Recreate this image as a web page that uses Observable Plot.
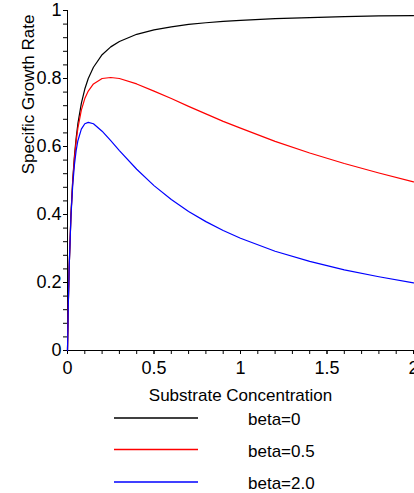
<!DOCTYPE html>
<html><head><meta charset="utf-8">
<script src="https://cdn.jsdelivr.net/npm/d3@7"></script>
<script src="https://cdn.jsdelivr.net/npm/@observablehq/plot@0.6"></script>
<style>
body{margin:0;background:#fff;font-family:"Liberation Sans",Arial,sans-serif;}
#wrap{position:relative;width:414px;height:493px;overflow:hidden;background:#fff;}
#wrap > svg{position:absolute;left:0;top:0;}
.t{position:absolute;font-size:17px;line-height:17px;color:#000;white-space:nowrap;}
</style></head><body><div id="wrap"></div>
<script>
// Substrate concentration (x) and specific growth rate
const conc   = [0, 0.005, 0.01, 0.02, 0.03, 0.04, 0.05, 0.06, 0.08, 0.1, 0.12, 0.15, 0.2, 0.25, 0.3, 0.4, 0.5, 0.6, 0.7, 0.8, 0.9, 1.0, 1.2, 1.4, 1.6, 1.8, 2.0];
const beta0  = [0, 0.143, 0.250, 0.400, 0.500, 0.571, 0.625, 0.667, 0.727, 0.769, 0.800, 0.833, 0.870, 0.893, 0.909, 0.930, 0.943, 0.952, 0.959, 0.964, 0.968, 0.971, 0.976, 0.979, 0.982, 0.984, 0.985];
const beta05 = [0, 0.143, 0.250, 0.398, 0.496, 0.565, 0.615, 0.654, 0.707, 0.741, 0.763, 0.784, 0.800, 0.803, 0.800, 0.784, 0.763, 0.741, 0.718, 0.696, 0.674, 0.654, 0.615, 0.581, 0.550, 0.522, 0.496];
const beta2  = [0, 0.143, 0.249, 0.394, 0.485, 0.546, 0.588, 0.617, 0.651, 0.667, 0.671, 0.667, 0.645, 0.617, 0.588, 0.533, 0.485, 0.444, 0.409, 0.379, 0.353, 0.330, 0.292, 0.262, 0.237, 0.217, 0.199];
const seriesNames  = ["beta=0", "beta=0.5", "beta=2.0"];
const seriesColors = ["#000000", "#ff0000", "#0000ff"];
const xMajor = [0, 0.5, 1, 1.5, 2];
const xMinor = [0, 0.1, 0.2, 0.3, 0.4, 0.5, 0.6, 0.7, 0.8, 0.9, 1.0, 1.1, 1.2, 1.3, 1.4, 1.5, 1.6, 1.7, 1.8, 1.9, 2.0];
const yMajor = [0, 0.2, 0.4, 0.6, 0.8, 1];
const yMinor = [0, 0.04, 0.08, 0.12, 0.16, 0.2, 0.24, 0.28, 0.32, 0.36, 0.4, 0.44, 0.48, 0.52, 0.56, 0.6, 0.64, 0.68, 0.72, 0.76, 0.8, 0.84, 0.88, 0.92, 0.96, 1];
const xTitle = "Substrate Concentration";
const yTitle = "Specific Growth Rate";

const seriesValues = [beta0, beta05, beta2];
const rows = seriesValues.flatMap((vals, k) => conc.map((c, i) => ({series: seriesNames[k], x: c, y: vals[i]})));

const fmt = d => d === 0 ? "0" : d3.format("")(d);

const chart = Plot.plot({
  width: 414, height: 385,
  marginLeft: 67, marginRight: 1, marginTop: 10, marginBottom: 35,
  x: {domain: [0, 2]},
  y: {domain: [0, 1]},
  color: {domain: seriesNames, range: seriesColors},
  style: {fontFamily: "'Liberation Sans', Arial, sans-serif", fontSize: "18px", background: "transparent", color: "#000"},
  marks: [
    Plot.axisX(xMinor, {tickSize: 4, tickFormat: () => "", label: null}),
    Plot.axisX(xMajor, {tickSize: 4, tickPadding: 7, tickFormat: fmt, label: null, fontSize: 18}),
    Plot.axisY(yMinor, {tickSize: 4, tickFormat: () => "", label: null}),
    Plot.axisY(yMajor, {tickSize: 4, tickPadding: 2, tickFormat: fmt, label: null, fontSize: 18}),
    Plot.ruleX([0], {y1: 0, y2: 1, stroke: "#000"}),
    Plot.ruleY([0], {stroke: "#000"}),
    Plot.line(rows, {x: "x", y: "y", z: "series", stroke: "series", strokeWidth: 1.2}),
    Plot.text([yTitle], {frameAnchor: "top-left", rotate: -90, dx: -45.5, dy: 84, textAnchor: "middle", fontSize: 17, fill: "#000"})
  ]
});

const wrap = document.getElementById("wrap");
wrap.appendChild(chart);

const xl = document.createElement("div");
xl.className = "t";
xl.style.left = "67px"; xl.style.width = "347px"; xl.style.textAlign = "center"; xl.style.top = "386.5px";
xl.textContent = xTitle;
wrap.appendChild(xl);

// legend
const NS = "http://www.w3.org/2000/svg";
const lg = document.createElementNS(NS, "svg");
lg.setAttribute("width", 414); lg.setAttribute("height", 108);
lg.style.position = "absolute"; lg.style.left = "0px"; lg.style.top = "385px";
wrap.appendChild(lg);
const swY = [33, 64.5, 97];
const txtTops = [410.5, 442.5, 474.5];
seriesNames.forEach((name, k) => {
  const ln = document.createElementNS(NS, "line");
  ln.setAttribute("x1", 114); ln.setAttribute("x2", 198);
  ln.setAttribute("y1", swY[k]); ln.setAttribute("y2", swY[k]);
  ln.setAttribute("stroke", seriesColors[k]);
  ln.setAttribute("stroke-width", 1.3);
  lg.appendChild(ln);
  const t = document.createElement("div");
  t.className = "t";
  t.style.left = "248px"; t.style.top = txtTops[k] + "px";
  t.textContent = name;
  wrap.appendChild(t);
});
</script></body></html>
